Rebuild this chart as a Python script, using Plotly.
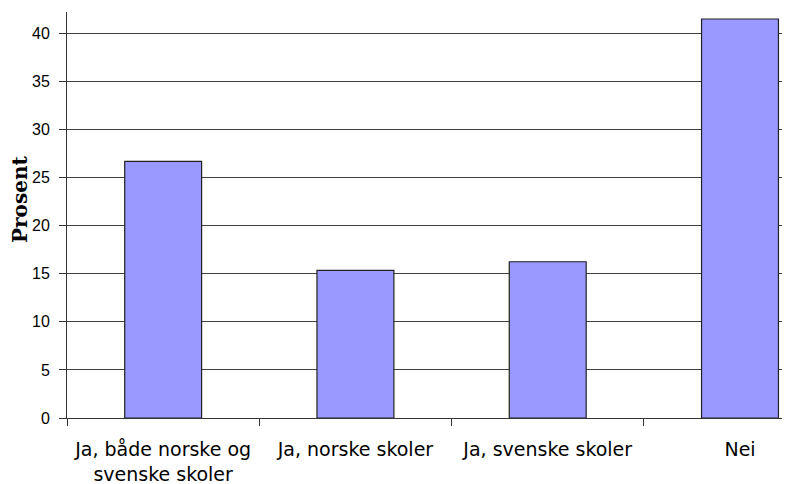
import plotly.graph_objects as go

categories = ["Ja, både norske og<br>svenske skoler", "Ja, norske skoler", "Ja, svenske skoler", "Nei"]
values = [26.7, 15.35, 16.25, 41.5]
y_ticks = [0, 5, 10, 15, 20, 25, 30, 35, 40]
y_title = "Prosent"

fig = go.Figure(go.Bar(
    x=categories, y=values, width=0.4,
    marker=dict(color="#9999FF", line=dict(color="#222222", width=1.2)),
))

# page body has an 8px margin; figure sized/offset to compensate
fig.update_layout(
    width=782, height=476,
    margin=dict(l=59, r=0, t=4, b=66),
    paper_bgcolor="white", plot_bgcolor="white",
    showlegend=False,
    font=dict(family="Liberation Sans, Arial, sans-serif", color="black"),
)
fig.update_xaxes(
    type="category", range=[-0.5, 3.26], automargin=False,
    showline=True, linecolor="#333333", linewidth=1,
    ticks="outside", tickson="boundaries", ticklen=7, tickcolor="#333333",
    ticklabelstandoff=14,
    showgrid=False, tickfont=dict(size=19, family="DejaVu Sans, sans-serif"),
)
fig.update_yaxes(
    range=[0, 42.23], tickvals=y_ticks, automargin=False,
    showline=True, linecolor="#333333", linewidth=1,
    ticks="outside", ticklen=7, tickcolor="#333333",
    ticklabelstandoff=6,
    showgrid=True, gridcolor="#404040", gridwidth=1.3,
    zeroline=False,
    tickfont=dict(size=16),
)
fig.add_annotation(
    text="<b>" + y_title + "</b>", textangle=-90,
    xref="paper", yref="paper", x=0, y=0.537,
    xanchor="center", yanchor="middle", xshift=-47, showarrow=False,
    font=dict(family="DejaVu Serif, serif", size=20, color="black"),
)
fig.write_html("out.html")
